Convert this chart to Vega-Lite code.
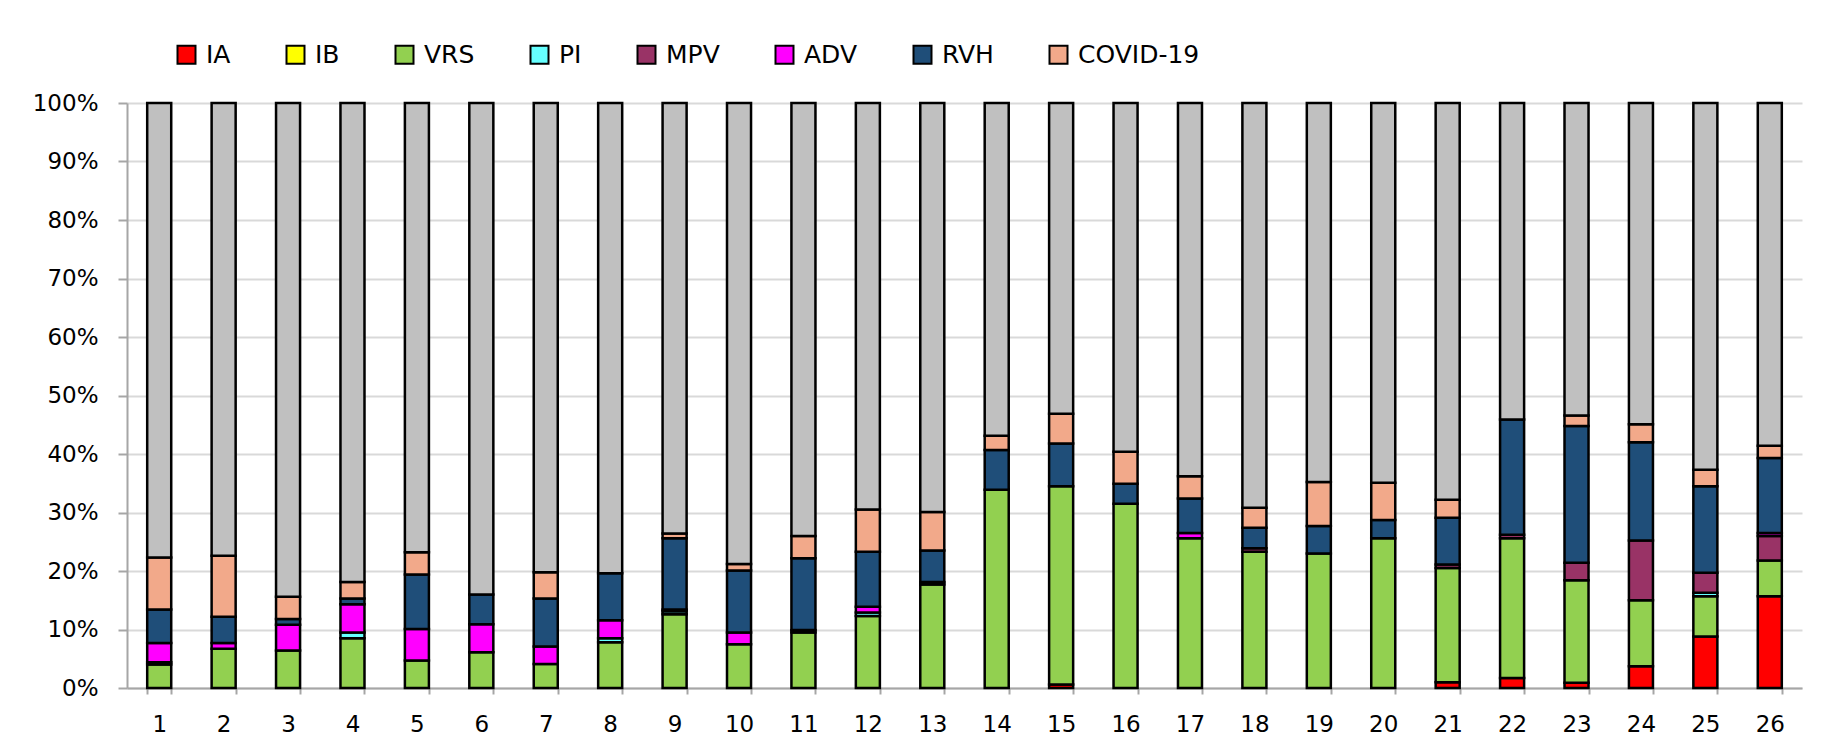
{
  "$schema": "https://vega.github.io/schema/vega-lite/v6.json",
  "width": 1675,
  "height": 585,
  "autosize": {"type": "none"},
  "padding": {"left": 127, "top": 103, "right": 21, "bottom": 57},
  "background": "white",
  "config": {
    "font": "DejaVu Sans",
    "view": {"stroke": null},
    "axis": {"labelFont": "DejaVu Sans", "labelColor": "#000000", "titleFont": "DejaVu Sans"}
  },
  "data": {
    "values": [
      {"s": 1, "v": "VRS", "o": 3, "p": 4.0}, {"s": 1, "v": "MPV", "o": 5, "p": 0.4}, {"s": 1, "v": "ADV", "o": 6, "p": 3.3}, {"s": 1, "v": "RVH", "o": 7, "p": 5.7}, {"s": 1, "v": "COVID-19", "o": 8, "p": 8.9}, {"s": 1, "v": "Otros", "o": 9, "p": 77.7},
      {"s": 2, "v": "VRS", "o": 3, "p": 6.7}, {"s": 2, "v": "ADV", "o": 6, "p": 1.0}, {"s": 2, "v": "RVH", "o": 7, "p": 4.5}, {"s": 2, "v": "COVID-19", "o": 8, "p": 10.4}, {"s": 2, "v": "Otros", "o": 9, "p": 77.4},
      {"s": 3, "v": "VRS", "o": 3, "p": 6.4}, {"s": 3, "v": "ADV", "o": 6, "p": 4.4}, {"s": 3, "v": "RVH", "o": 7, "p": 1.0}, {"s": 3, "v": "COVID-19", "o": 8, "p": 3.8}, {"s": 3, "v": "Otros", "o": 9, "p": 84.4},
      {"s": 4, "v": "VRS", "o": 3, "p": 8.5}, {"s": 4, "v": "PI", "o": 4, "p": 1.0}, {"s": 4, "v": "ADV", "o": 6, "p": 4.8}, {"s": 4, "v": "RVH", "o": 7, "p": 1.0}, {"s": 4, "v": "COVID-19", "o": 8, "p": 2.8}, {"s": 4, "v": "Otros", "o": 9, "p": 81.9},
      {"s": 5, "v": "VRS", "o": 3, "p": 4.7}, {"s": 5, "v": "ADV", "o": 6, "p": 5.4}, {"s": 5, "v": "RVH", "o": 7, "p": 9.3}, {"s": 5, "v": "COVID-19", "o": 8, "p": 3.8}, {"s": 5, "v": "Otros", "o": 9, "p": 76.8},
      {"s": 6, "v": "VRS", "o": 3, "p": 6.1}, {"s": 6, "v": "ADV", "o": 6, "p": 4.8}, {"s": 6, "v": "RVH", "o": 7, "p": 5.1}, {"s": 6, "v": "Otros", "o": 9, "p": 84.0},
      {"s": 7, "v": "VRS", "o": 3, "p": 4.1}, {"s": 7, "v": "ADV", "o": 6, "p": 3.0}, {"s": 7, "v": "RVH", "o": 7, "p": 8.2}, {"s": 7, "v": "COVID-19", "o": 8, "p": 4.5}, {"s": 7, "v": "Otros", "o": 9, "p": 80.2},
      {"s": 8, "v": "VRS", "o": 3, "p": 7.8}, {"s": 8, "v": "PI", "o": 4, "p": 0.7}, {"s": 8, "v": "ADV", "o": 6, "p": 3.1}, {"s": 8, "v": "RVH", "o": 7, "p": 8.0}, {"s": 8, "v": "Otros", "o": 9, "p": 80.4},
      {"s": 9, "v": "VRS", "o": 3, "p": 12.6}, {"s": 9, "v": "PI", "o": 4, "p": 0.5}, {"s": 9, "v": "MPV", "o": 5, "p": 0.3}, {"s": 9, "v": "RVH", "o": 7, "p": 12.2}, {"s": 9, "v": "COVID-19", "o": 8, "p": 0.8}, {"s": 9, "v": "Otros", "o": 9, "p": 73.6},
      {"s": 10, "v": "VRS", "o": 3, "p": 7.5}, {"s": 10, "v": "ADV", "o": 6, "p": 2.0}, {"s": 10, "v": "RVH", "o": 7, "p": 10.6}, {"s": 10, "v": "COVID-19", "o": 8, "p": 1.1}, {"s": 10, "v": "Otros", "o": 9, "p": 78.8},
      {"s": 11, "v": "VRS", "o": 3, "p": 9.5}, {"s": 11, "v": "MPV", "o": 5, "p": 0.4}, {"s": 11, "v": "RVH", "o": 7, "p": 12.3}, {"s": 11, "v": "COVID-19", "o": 8, "p": 3.8}, {"s": 11, "v": "Otros", "o": 9, "p": 74.0},
      {"s": 12, "v": "VRS", "o": 3, "p": 12.3}, {"s": 12, "v": "PI", "o": 4, "p": 0.6}, {"s": 12, "v": "ADV", "o": 6, "p": 1.0}, {"s": 12, "v": "RVH", "o": 7, "p": 9.4}, {"s": 12, "v": "COVID-19", "o": 8, "p": 7.2}, {"s": 12, "v": "Otros", "o": 9, "p": 69.5},
      {"s": 13, "v": "VRS", "o": 3, "p": 17.7}, {"s": 13, "v": "MPV", "o": 5, "p": 0.4}, {"s": 13, "v": "RVH", "o": 7, "p": 5.4}, {"s": 13, "v": "COVID-19", "o": 8, "p": 6.6}, {"s": 13, "v": "Otros", "o": 9, "p": 69.9},
      {"s": 14, "v": "VRS", "o": 3, "p": 33.9}, {"s": 14, "v": "RVH", "o": 7, "p": 6.8}, {"s": 14, "v": "COVID-19", "o": 8, "p": 2.4}, {"s": 14, "v": "Otros", "o": 9, "p": 56.9},
      {"s": 15, "v": "IA", "o": 1, "p": 0.6}, {"s": 15, "v": "VRS", "o": 3, "p": 33.9}, {"s": 15, "v": "RVH", "o": 7, "p": 7.3}, {"s": 15, "v": "COVID-19", "o": 8, "p": 5.1}, {"s": 15, "v": "Otros", "o": 9, "p": 53.1},
      {"s": 16, "v": "VRS", "o": 3, "p": 31.5}, {"s": 16, "v": "RVH", "o": 7, "p": 3.4}, {"s": 16, "v": "COVID-19", "o": 8, "p": 5.5}, {"s": 16, "v": "Otros", "o": 9, "p": 59.6},
      {"s": 17, "v": "VRS", "o": 3, "p": 25.6}, {"s": 17, "v": "ADV", "o": 6, "p": 0.9}, {"s": 17, "v": "RVH", "o": 7, "p": 5.9}, {"s": 17, "v": "COVID-19", "o": 8, "p": 3.8}, {"s": 17, "v": "Otros", "o": 9, "p": 63.8},
      {"s": 18, "v": "VRS", "o": 3, "p": 23.3}, {"s": 18, "v": "MPV", "o": 5, "p": 0.6}, {"s": 18, "v": "RVH", "o": 7, "p": 3.5}, {"s": 18, "v": "COVID-19", "o": 8, "p": 3.4}, {"s": 18, "v": "Otros", "o": 9, "p": 69.2},
      {"s": 19, "v": "VRS", "o": 3, "p": 23.0}, {"s": 19, "v": "RVH", "o": 7, "p": 4.7}, {"s": 19, "v": "COVID-19", "o": 8, "p": 7.5}, {"s": 19, "v": "Otros", "o": 9, "p": 64.8},
      {"s": 20, "v": "VRS", "o": 3, "p": 25.6}, {"s": 20, "v": "RVH", "o": 7, "p": 3.1}, {"s": 20, "v": "COVID-19", "o": 8, "p": 6.4}, {"s": 20, "v": "Otros", "o": 9, "p": 64.9},
      {"s": 21, "v": "IA", "o": 1, "p": 1.0}, {"s": 21, "v": "VRS", "o": 3, "p": 19.5}, {"s": 21, "v": "MPV", "o": 5, "p": 0.6}, {"s": 21, "v": "RVH", "o": 7, "p": 8.0}, {"s": 21, "v": "COVID-19", "o": 8, "p": 3.1}, {"s": 21, "v": "Otros", "o": 9, "p": 67.8},
      {"s": 22, "v": "IA", "o": 1, "p": 1.7}, {"s": 22, "v": "VRS", "o": 3, "p": 23.9}, {"s": 22, "v": "MPV", "o": 5, "p": 0.6}, {"s": 22, "v": "RVH", "o": 7, "p": 19.7}, {"s": 22, "v": "Otros", "o": 9, "p": 54.1},
      {"s": 23, "v": "IA", "o": 1, "p": 0.9}, {"s": 23, "v": "VRS", "o": 3, "p": 17.5}, {"s": 23, "v": "MPV", "o": 5, "p": 3.0}, {"s": 23, "v": "RVH", "o": 7, "p": 23.4}, {"s": 23, "v": "COVID-19", "o": 8, "p": 1.8}, {"s": 23, "v": "Otros", "o": 9, "p": 53.4},
      {"s": 24, "v": "IA", "o": 1, "p": 3.7}, {"s": 24, "v": "VRS", "o": 3, "p": 11.3}, {"s": 24, "v": "MPV", "o": 5, "p": 10.2}, {"s": 24, "v": "RVH", "o": 7, "p": 16.8}, {"s": 24, "v": "COVID-19", "o": 8, "p": 3.1}, {"s": 24, "v": "Otros", "o": 9, "p": 54.9},
      {"s": 25, "v": "IA", "o": 1, "p": 8.8}, {"s": 25, "v": "VRS", "o": 3, "p": 6.9}, {"s": 25, "v": "PI", "o": 4, "p": 0.6}, {"s": 25, "v": "MPV", "o": 5, "p": 3.4}, {"s": 25, "v": "RVH", "o": 7, "p": 14.8}, {"s": 25, "v": "COVID-19", "o": 8, "p": 2.8}, {"s": 25, "v": "Otros", "o": 9, "p": 62.7},
      {"s": 26, "v": "IA", "o": 1, "p": 15.7}, {"s": 26, "v": "VRS", "o": 3, "p": 6.1}, {"s": 26, "v": "MPV", "o": 5, "p": 4.2}, {"s": 26, "v": "ADV", "o": 6, "p": 0.5}, {"s": 26, "v": "RVH", "o": 7, "p": 12.8}, {"s": 26, "v": "COVID-19", "o": 8, "p": 2.1}, {"s": 26, "v": "Otros", "o": 9, "p": 58.6}
    ]
  },
  "mark": {"type": "bar", "stroke": "#000000", "strokeWidth": 2.5},
  "encoding": {
    "x": {
      "field": "s",
      "type": "ordinal",
      "title": null,
      "scale": {"paddingInner": 0.627, "paddingOuter": 0.3135},
      "axis": {
        "labelAngle": 0,
        "labelFontSize": 23,
        "labelPadding": 19,
        "tickBand": "extent",
        "tickSize": 6,
        "tickColor": "#a6a6a6",
        "tickWidth": 2,
        "domainColor": "#a6a6a6",
        "domainWidth": 2,
        "grid": false
      }
    },
    "y": {
      "field": "p",
      "type": "quantitative",
      "stack": "zero",
      "title": null,
      "scale": {"domain": [0, 100], "nice": false},
      "axis": {
        "values": [0, 10, 20, 30, 40, 50, 60, 70, 80, 90, 100],
        "labelExpr": "datum.value + '%'",
        "labelFontSize": 23,
        "labelPadding": 20,
        "tickSize": 9,
        "tickColor": "#a6a6a6",
        "tickWidth": 2,
        "domainColor": "#a6a6a6",
        "domainWidth": 2,
        "gridColor": "#d9d9d9",
        "gridWidth": 2
      }
    },
    "color": {
      "field": "v",
      "type": "nominal",
      "scale": {
        "domain": ["IA", "IB", "VRS", "PI", "MPV", "ADV", "RVH", "COVID-19", "Otros"],
        "range": ["#ff0000", "#ffff00", "#92d050", "#66ffff", "#993366", "#ff00ff", "#1f4e79", "#f2a98a", "#c0c0c0"]
      },
      "legend": {
        "values": ["IA", "IB", "VRS", "PI", "MPV", "ADV", "RVH", "COVID-19"],
        "title": null,
        "orient": "none",
        "direction": "horizontal",
        "legendX": 47,
        "legendY": -61,
        "padding": 0,
        "symbolType": "square",
        "symbolSize": 324,
        "symbolStrokeColor": "#000000",
        "symbolStrokeWidth": 2,
        "symbolOpacity": 1,
        "labelFontSize": 25,
        "labelColor": "#000000",
        "labelOffset": 7,
        "columnPadding": 51,
        "columns": 8
      }
    },
    "order": {"field": "o", "type": "quantitative", "sort": "ascending"}
  }
}
